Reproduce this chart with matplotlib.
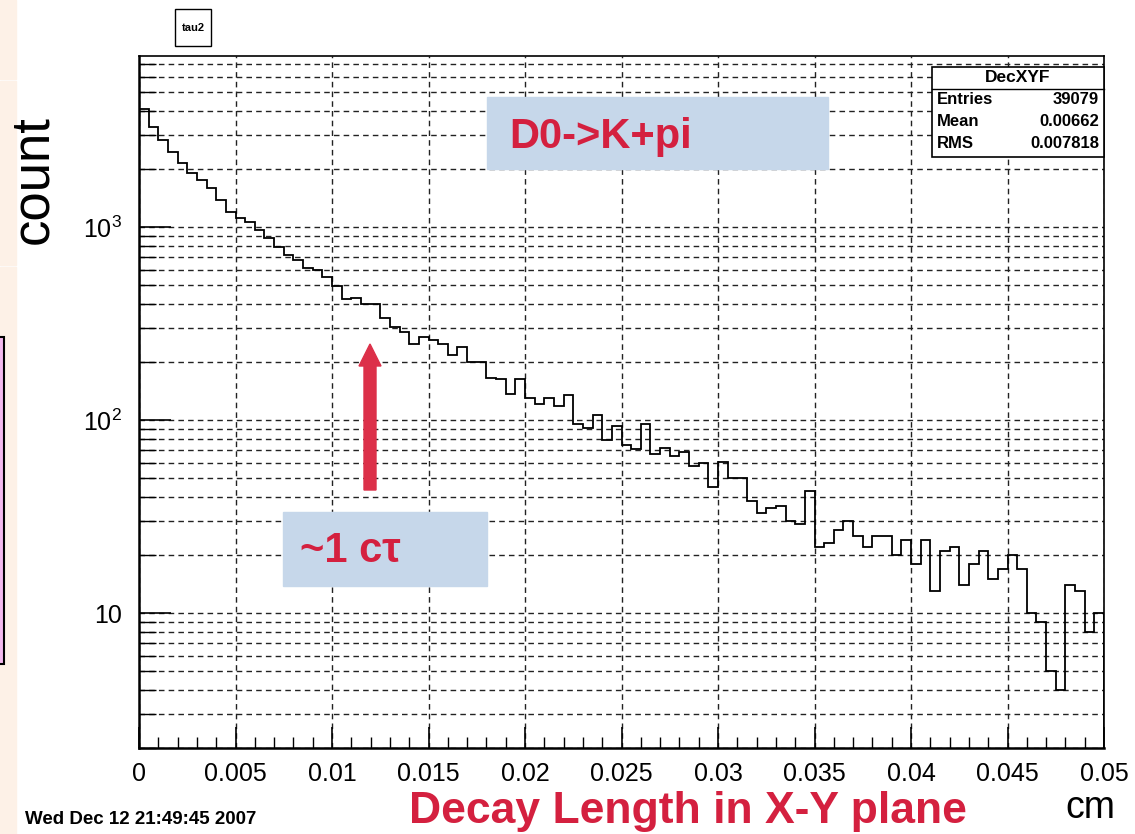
import matplotlib
matplotlib.use("Agg")
import matplotlib.pyplot as plt
import numpy as np
from matplotlib.patches import Rectangle, Polygon
from matplotlib.ticker import FixedLocator, LogLocator, FuncFormatter

plt.rcParams['font.family'] = ['Liberation Sans', 'DejaVu Sans']
plt.rcParams['mathtext.fontset'] = 'custom'
plt.rcParams['mathtext.rm'] = 'Liberation Sans'

# histogram data (100 bins, 0 .. 0.05 cm)
x_min, x_max, n_bins = 0.0, 0.05, 100
counts = [4100, 3310, 2820, 2455, 2160, 1897, 1752, 1598, 1380, 1200,
          1109, 1065, 964, 880, 790, 716, 675, 611, 599, 553,
          496, 424, 430, 398, 398, 340, 304, 287, 247, 268,
          260, 247, 217, 240, 200, 200, 166, 164, 137, 164,
          130, 121, 130, 118, 135, 95, 91, 106, 79, 93,
          74, 71, 95, 67, 72, 65, 68, 58, 60, 45,
          61, 50, 50, 38, 33, 35, 36, 30, 29, 43,
          22, 23, 27, 30, 25, 22, 25, 25, 20, 24,
          18, 24, 13, 21, 22, 14, 18, 21, 15, 17,
          20, 17, 10, 9, 5, 4, 14, 13, 8, 10]
x_ticks = [0, 0.005, 0.01, 0.015, 0.02, 0.025, 0.03, 0.035, 0.04, 0.045, 0.05]
x_tick_labels = ['0', '0.005', '0.01', '0.015', '0.02', '0.025', '0.03',
                 '0.035', '0.04', '0.045', '0.05']
y_tick_labels = {10: '10', 100: '$10^{2}$', 1000: '$10^{3}$'}

hist_name = 'DecXYF'
stat_names = ['Entries', 'Mean', 'RMS']
stat_values = ['39079', '0.00662', '0.007818']

W, H = 1135, 834
fig = plt.figure(figsize=(W / 100, H / 100), dpi=100)


def fx(x):
    return x / W


def fy(y):
    return 1 - y / H


# left slide strip
strip_col = '#fdf1e7'
for y0, y1 in [(0, 79), (81, 265), (267, 834)]:
    fig.patches.append(Rectangle((0, fy(y1)), fx(16), fy(y0) - fy(y1),
                                 transform=fig.transFigure, color=strip_col, zorder=0))
fig.patches.append(Rectangle((fx(-3), fy(664)), fx(7), fy(337) - fy(664),
                             transform=fig.transFigure, facecolor='#f3b9ee',
                             edgecolor='black', lw=1.5, zorder=1))

ax = fig.add_axes([fx(139), fy(748), fx(1104) - fx(139), fy(56) - fy(748)])

edges = np.linspace(x_min, x_max, n_bins + 1)
ax.stairs(counts, edges, color='black', lw=1.3, zorder=3)

ax.set_yscale('log')
ax.set_xlim(x_min, x_max)
ax.set_ylim(2.0, 7700)

ax.xaxis.set_major_locator(FixedLocator(x_ticks))
ax.xaxis.set_minor_locator(FixedLocator(np.arange(0, 0.0501, 0.001)))
ax.set_xticklabels(x_tick_labels)
ax.yaxis.set_major_locator(FixedLocator([10, 100, 1000]))
ax.yaxis.set_minor_locator(LogLocator(base=10, subs=np.arange(2, 10)))
ax.yaxis.set_major_formatter(FuncFormatter(lambda v, p: y_tick_labels.get(int(round(v)), '')))
ax.yaxis.set_minor_formatter(FuncFormatter(lambda v, p: ''))

ax.tick_params(axis='x', which='major', direction='in', length=15, width=1.2,
               labelsize=18, pad=10)
ax.tick_params(axis='x', which='minor', direction='in', length=8, width=1.0)
ax.tick_params(axis='y', which='major', direction='in', length=23, width=1.2,
               labelsize=18, pad=12)
ax.tick_params(axis='y', which='minor', direction='in', length=12, width=1.0)

grid_kw = dict(color='#222222', lw=1.0, linestyle=(0, (4, 3)), zorder=1)
ax.grid(True, which='major', axis='x', **grid_kw)
ax.grid(True, which='both', axis='y', **grid_kw)

for side in ['left', 'bottom']:
    ax.spines[side].set_linewidth(1.8)
for side in ['top', 'right']:
    ax.spines[side].set_linewidth(1.2)

# stats box
fig.patches.append(Rectangle((fx(932), fy(157)), fx(1104) - fx(932), fy(67) - fy(157),
                             transform=fig.transFigure, facecolor='white',
                             edgecolor='black', lw=1.2, zorder=5))
fig.lines.append(plt.Line2D([fx(932), fx(1104)], [fy(89), fy(89)],
                            transform=fig.transFigure, color='black', lw=1.0, zorder=6))
fig.text(fx(1018), fy(78), hist_name, ha='center', va='center', fontsize=12.5,
         fontweight='bold', zorder=7)
for i, (name, val) in enumerate(zip(stat_names, stat_values)):
    yy = fy(100 + 22 * i)
    fig.text(fx(937), yy, name, ha='left', va='center', fontsize=12,
             fontweight='bold', zorder=7)
    fig.text(fx(1099), yy, val, ha='right', va='center', fontsize=12,
             fontweight='bold', zorder=7)

# title box
fig.patches.append(Rectangle((fx(175), fy(46)), fx(36), fy(9) - fy(46),
                             transform=fig.transFigure, facecolor='white',
                             edgecolor='black', lw=1.0))
fig.text(fx(193), fy(28), 'tau2', ha='center', va='center', fontsize=8, fontweight='bold')

# annotation boxes
box_col = '#c6d7ea'
red = '#d4203f'
fig.patches.append(Rectangle((fx(487), fy(169)), fx(828) - fx(487), fy(97) - fy(169),
                             transform=fig.transFigure, color=box_col, zorder=4))
fig.text(fx(509), fy(137), 'D0->K+pi', ha='left', va='center', fontsize=30,
         fontweight='bold', color=red, zorder=5)
fig.patches.append(Rectangle((fx(283), fy(586)), fx(487) - fx(283), fy(512) - fy(586),
                             transform=fig.transFigure, color=box_col, zorder=4))
fig.text(fx(300), fy(551), '~1 c\u03c4', ha='left', va='center', fontsize=30,
         fontweight='bold', color=red, zorder=5)

# red arrow
arrow_pts = [(364, 490), (376, 490), (376, 366), (381, 366), (370, 344),
             (359, 366), (364, 366)]
fig.patches.append(Polygon([(fx(a), fy(b)) for a, b in arrow_pts], closed=True,
                           transform=fig.transFigure, color='#dc3049', zorder=5))

# labels
fig.text(fx(33), fy(180), 'count', rotation=90, ha='center', va='center', fontsize=38)
fig.text(fx(688), fy(823), 'Decay Length in X-Y plane', ha='center', va='baseline',
         fontsize=32, fontweight='bold', color=red)
fig.text(fx(1090), fy(818), 'cm', ha='center', va='baseline', fontsize=27)
fig.text(fx(25), fy(824), 'Wed Dec 12 21:49:45 2007', ha='left', va='baseline',
         fontsize=13.5, fontweight='bold')

fig.savefig('out.png', dpi=100)
